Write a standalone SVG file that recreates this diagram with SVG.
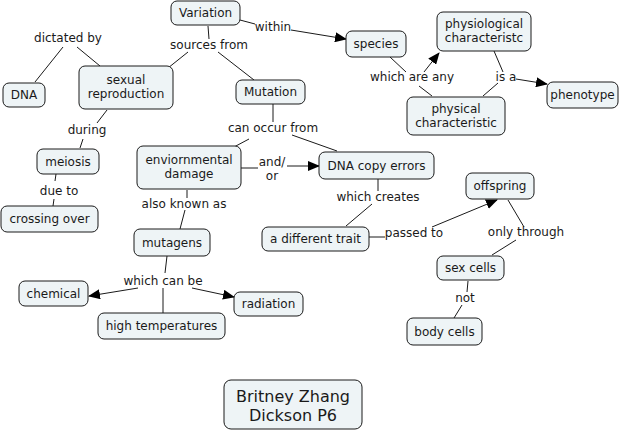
<svg xmlns="http://www.w3.org/2000/svg" width="629" height="432" viewBox="0 0 629 432">
<defs>
<marker id="ah" viewBox="0 0 12 10" refX="11" refY="5" markerWidth="12" markerHeight="10" markerUnits="userSpaceOnUse" orient="auto">
<path d="M0,0 L12,5 L0,10 Z" fill="#000"/>
</marker>
<style>
.n rect{fill:#eef4f6;stroke:#1a1a1a;stroke-width:1}
text{font-family:"DejaVu Sans",Verdana,sans-serif;font-size:12px;fill:#1a1a1a;text-anchor:middle}
.t text{font-size:16px}
#connectors path{fill:none;stroke:#1a1a1a;stroke-width:1}
#connectors path.a{marker-end:url(#ah)}
</style>
</defs>
<rect width="629" height="432" fill="#fff"/>
<g id="connectors">
<path d="M208,26 L209,39"/>
<path d="M188,52 L168,68"/>
<path d="M218,52 L254,80"/>
<path d="M240,20 L255,24"/>
<path class="a" d="M291,30 L346,39"/>
<path d="M100,66 L77,47"/>
<path d="M63,47 L35,82"/>
<path d="M107,110 L97,123"/>
<path d="M83,139 L80,148"/>
<path d="M56,174 L55,181"/>
<path d="M54,199 L53,206"/>
<path d="M273,104 L273,122"/>
<path d="M249,139 L234,147"/>
<path d="M292,135 L337,151"/>
<path d="M241,168 L258,168"/>
<path class="a" d="M287,166 L319,166"/>
<path d="M187,190 L187,198"/>
<path d="M185,210 L180,229"/>
<path d="M167,256 L165,273"/>
<path class="a" d="M138,288 L89,296"/>
<path class="a" d="M192,288 L234,297"/>
<path d="M163,288 L163,313"/>
<path d="M390,57 L406,72"/>
<path d="M432,96 L419,86"/>
<path class="a" d="M424,72 L439,53"/>
<path d="M494,51 L503,72"/>
<path d="M483,96 L498,83"/>
<path class="a" d="M516,79 L547,84"/>
<path d="M378,179 L378,191"/>
<path d="M372,204 L346,226"/>
<path d="M369,237 L385,237"/>
<path class="a" d="M432,227 L497,200"/>
<path d="M508,200 L524,227"/>
<path d="M516,240 L492,255"/>
<path d="M468,281 L467,292"/>
<path d="M462,305 L454,318"/>
</g>
<g id="labels">
<text x="68" y="42">dictated by</text>
<text x="209" y="49">sources from</text>
<text x="273" y="31">within</text>
<text x="87" y="134">during</text>
<text x="273" y="132">can occur from</text>
<text x="412" y="81">which are any</text>
<text x="506" y="81">is a</text>
<text x="59" y="195">due to</text>
<text x="184" y="208">also known as</text>
<text x="272" y="166">and/</text>
<text x="272" y="180">or</text>
<text x="378" y="201">which creates</text>
<text x="414" y="237">passed to</text>
<text x="526" y="236">only through</text>
<text x="465" y="302">not</text>
<text x="163" y="285">which can be</text>
</g>
<g id="variation" class="n"><rect x="171" y="1" width="69" height="24" rx="6"/><text x="205.5" y="17">Variation</text></g>
<g id="dna" class="n"><rect x="3" y="83" width="42" height="24" rx="6"/><text x="24" y="99">DNA</text></g>
<g id="sexual-reproduction" class="n"><rect x="79" y="66" width="94" height="43" rx="6"/><text x="126" y="84">sexual</text><text x="126" y="98">reproduction</text></g>
<g id="mutation" class="n"><rect x="236" y="80" width="69" height="24" rx="6"/><text x="270.5" y="96">Mutation</text></g>
<g id="species" class="n"><rect x="346" y="31" width="60" height="26" rx="6"/><text x="376" y="48">species</text></g>
<g id="physiological" class="n"><rect x="437" y="12" width="94" height="39" rx="6"/><text x="484" y="28">physiological</text><text x="484" y="42">characteristc</text></g>
<g id="phenotype" class="n"><rect x="547" y="82" width="71" height="26" rx="6"/><text x="582.5" y="99">phenotype</text></g>
<g id="physical" class="n"><rect x="407" y="97" width="98" height="38" rx="6"/><text x="456" y="113">physical</text><text x="456" y="127">characteristic</text></g>
<g id="meiosis" class="n"><rect x="37" y="149" width="62" height="25" rx="6"/><text x="68" y="166">meiosis</text></g>
<g id="crossing-over" class="n"><rect x="1" y="206" width="97" height="26" rx="6"/><text x="49.5" y="223">crossing over</text></g>
<g id="env-damage" class="n"><rect x="137" y="146" width="104" height="43" rx="6"/><text x="189" y="164">enviornmental</text><text x="189" y="178">damage</text></g>
<g id="mutagens" class="n"><rect x="134" y="229" width="76" height="27" rx="6"/><text x="172" y="246.5">mutagens</text></g>
<g id="dna-copy-errors" class="n"><rect x="319" y="152" width="115" height="27" rx="6"/><text x="376.5" y="169.5">DNA copy errors</text></g>
<g id="offspring" class="n"><rect x="466" y="173" width="68" height="26" rx="6"/><text x="500" y="190">offspring</text></g>
<g id="different-trait" class="n"><rect x="262" y="227" width="107" height="24" rx="6"/><text x="315.5" y="243">a different trait</text></g>
<g id="sex-cells" class="n"><rect x="437" y="256" width="67" height="24" rx="6"/><text x="470.5" y="272">sex cells</text></g>
<g id="body-cells" class="n"><rect x="407" y="318" width="75" height="27" rx="6"/><text x="444.5" y="335.5">body cells</text></g>
<g id="chemical" class="n"><rect x="19" y="281" width="69" height="25" rx="6"/><text x="53.5" y="297.5">chemical</text></g>
<g id="radiation" class="n"><rect x="234" y="292" width="69" height="24" rx="6"/><text x="268.5" y="308">radiation</text></g>
<g id="high-temperatures" class="n"><rect x="98" y="313" width="127" height="26" rx="6"/><text x="161.5" y="330">high temperatures</text></g>
<g id="title" class="n t"><rect x="224" y="380" width="138" height="49" rx="7"/><text x="293" y="402">Britney Zhang</text><text x="293" y="421">Dickson P6</text></g>
</svg>
